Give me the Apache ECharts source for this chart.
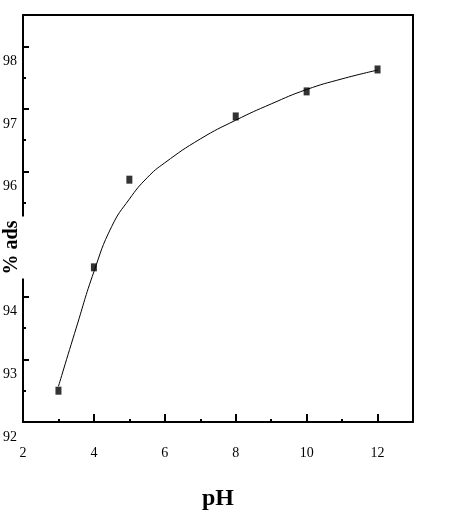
<!DOCTYPE html>
<html>
<head>
<meta charset="utf-8">
<script src="https://cdn.jsdelivr.net/npm/echarts@6/dist/echarts.min.js"></script>
<style>html,body{margin:0;padding:0;background:#fff;}#c{width:458px;height:512px;}</style>
</head>
<body>
<div id="c"></div>
<script>
// measured points
const phValues = [3, 4, 5, 8, 10, 12];
const adsValues = [92.5, 94.47, 95.87, 96.88, 97.28, 97.63];
// fitted curve
const fitPh = [3, 3.5, 4, 4.5, 5, 5.5, 6, 7, 8, 9, 10, 11, 12];
const fitAds = [92.57, 93.5, 94.4, 95.12, 95.56, 95.9, 96.14, 96.52, 96.82, 97.08, 97.31, 97.48, 97.62];
const yTickLabels = ['92', '93', '94', '', '96', '97', '98'];
const xTickLabels = ['2', '4', '6', '8', '10', '12'];

const chart = echarts.init(document.getElementById('c'));
const serif = 'Liberation Serif';
chart.setOption({
  animation: false,
  grid: { left: 23, top: 15, right: 45, bottom: 90, containLabel: false, outerBoundsMode: 'none' },
  xAxis: [{
    type: 'value', min: 2, max: 13, interval: 2,
    name: 'pH', nameLocation: 'middle', nameGap: 65, nameMoveOverlap: false,
    nameTextStyle: { fontFamily: serif, fontWeight: 'bold', fontSize: 24, color: '#000' },
    axisLine: { lineStyle: { color: '#000', width: 2 } },
    axisTick: { inside: true, length: 8, lineStyle: { color: '#000', width: 2 } },
    minorTick: { show: true, splitNumber: 2, length: 3, lineStyle: { color: '#000', width: 2 } },
    splitLine: { show: false },
    axisLabel: {
      margin: 24, fontFamily: serif, fontSize: 14, color: '#000',
      formatter: v => xTickLabels.includes(String(v)) ? String(v) : ''
    }
  }, {
    type: 'value', position: 'top', min: 2, max: 13,
    axisLine: { show: true, lineStyle: { color: '#000', width: 2 } },
    axisTick: { show: false }, axisLabel: { show: false }, splitLine: { show: false }
  }],
  yAxis: [{
    type: 'value', position: 'left', min: 92, max: 98.5, interval: 1,
    axisLine: { lineStyle: { color: '#000', width: 2 } },
    axisTick: { inside: true, length: 6, lineStyle: { color: '#000', width: 2 } },
    minorTick: { show: true, splitNumber: 2, length: 3, lineStyle: { color: '#000', width: 2 } },
    splitLine: { show: false },
    axisLabel: {
      margin: 6, fontFamily: serif, fontSize: 14, color: '#000', verticalAlign: 'top', padding: [8, 0, 0, 0],
      formatter: v => yTickLabels.includes(String(v)) ? String(v) : ''
    }
  }, {
    type: 'value', position: 'right', min: 92, max: 98.5,
    axisLine: { show: true, lineStyle: { color: '#000', width: 2 } },
    axisTick: { show: false }, axisLabel: { show: false }, splitLine: { show: false }
  }, {
    type: 'value', position: 'left', min: 92, max: 98.5, z: 20,
    name: '{t|% ads}{s| }', nameLocation: 'middle', nameGap: -7, nameRotate: 90, nameMoveOverlap: false,
    nameTextStyle: {
      rich: {
        t: { fontFamily: serif, fontWeight: 'bold', fontSize: 20, color: '#000', backgroundColor: '#fff', padding: [0, 4, 8, 4] },
        s: { width: 58, fontSize: 20 }
      }
    },
    axisLine: { show: false }, axisTick: { show: false }, axisLabel: { show: false }, splitLine: { show: false }
  }],
  series: [{
    type: 'line', smooth: 0.5, showSymbol: false,
    data: fitPh.map((x, i) => [x, fitAds[i]]),
    lineStyle: { color: '#000', width: 1 }, z: 2
  }, {
    type: 'scatter', symbol: 'rect', symbolSize: [6, 8],
    data: phValues.map((x, i) => [x, adsValues[i]]),
    itemStyle: { color: '#000' }, z: 3
  }]
});
</script>
</body>
</html>
